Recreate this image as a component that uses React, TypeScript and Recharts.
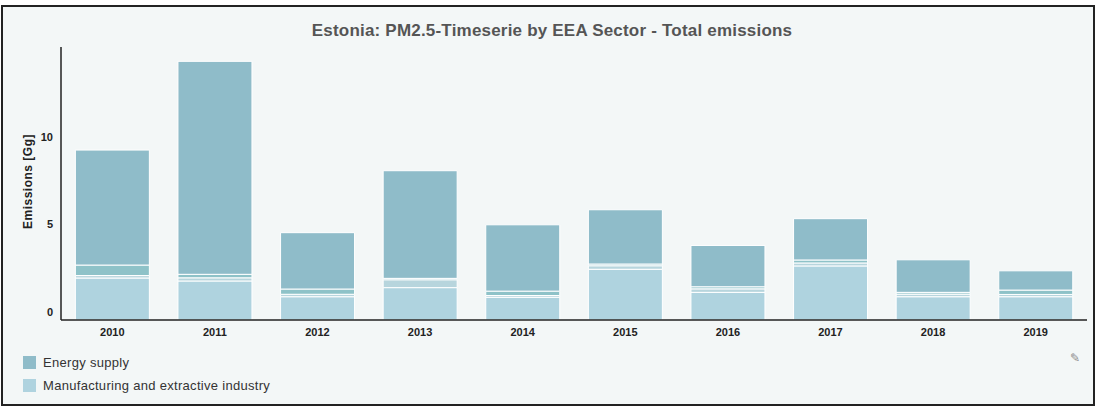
import { BarChart, Bar, XAxis, YAxis, Label } from "recharts";

const years = ["2010", "2011", "2012", "2013", "2014", "2015", "2016", "2017", "2018", "2019"];
const manufacturing = [2.4, 2.23, 1.33, 1.85, 1.3, 2.9, 1.58, 3.09, 1.33, 1.33];
const otherLight = [0.14, 0.18, 0.14, 0.45, 0.1, 0.2, 0.2, 0.17, 0.15, 0.13];
const otherTeal = [0.6, 0.2, 0.3, 0.08, 0.25, 0.1, 0.12, 0.17, 0.1, 0.25];
const energySupply = [6.57, 12.17, 3.22, 6.15, 3.79, 3.1, 2.36, 2.36, 1.86, 1.1];
const yTicks = [0, 5, 10];

const legendItems = [
  { name: "Energy supply", color: "#8fbcc9" },
  { name: "Manufacturing and extractive industry", color: "#afd3df" },
];

const data = years.map((year, i) => ({
  year,
  manufacturing: manufacturing[i],
  otherLight: otherLight[i],
  otherTeal: otherTeal[i],
  energy: energySupply[i],
}));

const FONT = "'Liberation Sans', Arial, sans-serif";

// labels in the reference sit a little above their tick value
const YTick = ({ x, y, payload }: any) => (
  <text x={x} y={y - 8} dy="0.35em" textAnchor="end" fontSize={11} fontWeight="bold" fill="#222" fontFamily={FONT}>
    {payload.value}
  </text>
);

export default function App() {
  return (
    <div style={{ position: "absolute", left: 0, top: 0, width: 1095, height: 406, background: "#fff", fontFamily: FONT }}>
      <div
        style={{
          position: "absolute",
          left: 1,
          top: 5,
          width: 1090,
          height: 397,
          background: "#f3f7f7",
          border: "2px solid #222",
        }}
      />
      <div
        style={{
          position: "absolute",
          left: 0,
          top: 21,
          width: 1104,
          textAlign: "center",
          fontSize: 17,
          letterSpacing: 0.2,
          fontWeight: "bold",
          color: "#555",
        }}
      >
        Estonia: PM2.5-Timeserie by EEA Sector - Total emissions
      </div>
      <div style={{ position: "absolute", left: 0, top: 0 }}>
        <BarChart
          width={1095}
          height={406}
          data={data}
          margin={{ top: 47, right: 8, bottom: 66, left: 21 }}
          barCategoryGap="14%"
        >
          <XAxis
            dataKey="year"
            tickLine={false}
            axisLine={{ stroke: "#222", strokeWidth: 1.5 }}
            tick={{ fontSize: 11, fontWeight: "bold", fill: "#222", fontFamily: FONT }}
            height={20}
            interval={0}
          />
          <YAxis
            width={40}
            domain={[0, 15.6]}
            ticks={yTicks}
            tickLine={false}
            axisLine={{ stroke: "#222", strokeWidth: 1.5 }}
            tick={<YTick />}
          >
            <Label
              value="Emissions [Gg]"
              angle={-90}
              position="insideLeft"
              offset={7}
              dy={-2}
              style={{ fontSize: 12, letterSpacing: 0.5, fontWeight: "bold", fill: "#222", fontFamily: FONT, textAnchor: "middle" }}
            />
          </YAxis>
          <Bar dataKey="manufacturing" stackId="a" fill="#afd3df" stroke="#fff" strokeWidth={1} isAnimationActive={false} />
          <Bar dataKey="otherLight" stackId="a" fill="#b7d5dd" stroke="#fff" strokeWidth={1} isAnimationActive={false} />
          <Bar dataKey="otherTeal" stackId="a" fill="#8ec2c8" stroke="#fff" strokeWidth={1} isAnimationActive={false} />
          <Bar dataKey="energy" stackId="a" fill="#8fbcc9" stroke="#fff" strokeWidth={1} isAnimationActive={false} />
        </BarChart>
      </div>
      {legendItems.map((item, i) => (
        <div
          key={item.name}
          style={{
            position: "absolute",
            left: 23,
            top: 355 + i * 23,
            display: "flex",
            alignItems: "center",
            fontSize: 13,
            letterSpacing: 0.3,
            color: "#333",
          }}
        >
          <span style={{ width: 13, height: 13, background: item.color, display: "inline-block", marginRight: 7 }} />
          {item.name}
        </div>
      ))}
      <div style={{ position: "absolute", left: 1070, top: 351, fontSize: 12, color: "#888" }}>✎</div>
    </div>
  );
}
